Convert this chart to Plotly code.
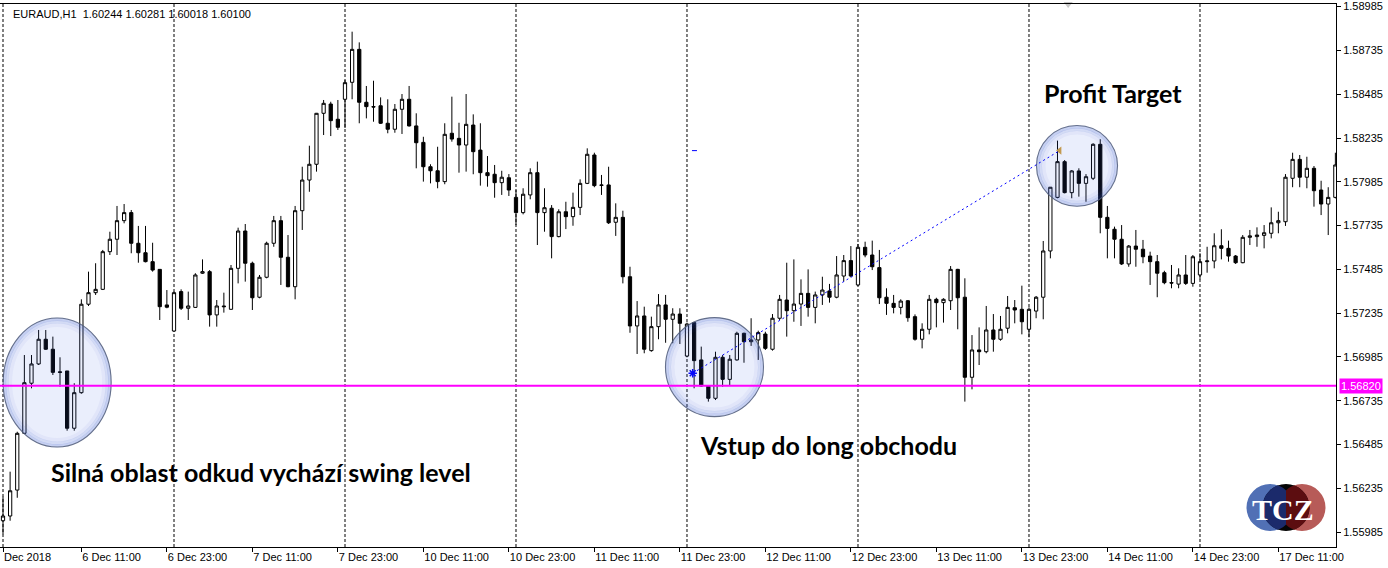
import numpy as np
import pandas as pd
import plotly.graph_objects as go

# ---------------- data ----------------
# H1 bar times (weekend skipped)
times = (list(pd.date_range("2018-12-06 00:00", "2018-12-07 23:00", freq="h"))
         + list(pd.date_range("2018-12-10 00:00", "2018-12-14 23:00", freq="h"))
         + list(pd.date_range("2018-12-17 00:00", "2018-12-17 19:00", freq="h")))

open_ = [1.56050, 1.56077, 1.56225, 1.56549, 1.56835, 1.56945, 1.57086, 1.57029, 1.56900, 1.56905,
         1.56578, 1.56781, 1.57286, 1.57352, 1.57371, 1.57586, 1.57657, 1.57763, 1.57809, 1.57634,
         1.57580, 1.57529, 1.57485, 1.57282, 1.57133, 1.57358, 1.57263, 1.57268, 1.57463, 1.57472,
         1.57225, 1.57276, 1.57257, 1.57491, 1.57704, 1.57520, 1.57326, 1.57440, 1.57634, 1.57763,
         1.57554, 1.57386, 1.57820, 1.57995, 1.58085, 1.58376, 1.58429, 1.58342, 1.58456, 1.58553,
         1.58741, 1.58439, 1.58414, 1.58419, 1.58319, 1.58285, 1.58399, 1.58456, 1.58304, 1.58210,
         1.58071, 1.58048, 1.57986, 1.58262, 1.58233, 1.58195, 1.58309, 1.58166, 1.58037, 1.58028,
         1.57980, 1.58008, 1.57896, 1.57809, 1.57910, 1.58037, 1.57809, 1.57834, 1.57672, 1.57814,
         1.57786, 1.57839, 1.57976, 1.58138, 1.57967, 1.57967, 1.57754, 1.57782, 1.57443, 1.57162,
         1.57219, 1.57021, 1.57158, 1.57282, 1.57200, 1.57230, 1.56990, 1.57181, 1.56968, 1.56819,
         1.56749, 1.56983, 1.56857, 1.56968, 1.57120, 1.57072, 1.57082, 1.57116, 1.57029, 1.57206,
         1.57310, 1.57249, 1.57287, 1.57348, 1.57268, 1.57339, 1.57362, 1.57326, 1.57447, 1.57535,
         1.57396, 1.57611, 1.57567, 1.57495, 1.57326, 1.57291, 1.57268, 1.57306, 1.57215, 1.57086,
         1.57143, 1.57314, 1.57295, 1.57306, 1.57485, 1.57326, 1.56869, 1.57025, 1.57015, 1.57139,
         1.57086, 1.57149, 1.57266, 1.57257, 1.57143, 1.57247, 1.57326, 1.57590, 1.57896, 1.58100,
         1.57923, 1.58047, 1.57976, 1.58005, 1.58199, 1.57782, 1.57714, 1.57657, 1.57516, 1.57618,
         1.57600, 1.57561, 1.57529, 1.57466, 1.57409, 1.57401, 1.57453, 1.57405, 1.57453, 1.57529,
         1.57533, 1.57620, 1.57605, 1.57561, 1.57523, 1.57668, 1.57672, 1.57679, 1.57691, 1.57751,
         1.57757, 1.58005, 1.58113, 1.58011, 1.58062, 1.57938, 1.57858, 1.57896]

high = [1.56187, 1.56330, 1.56558, 1.56996, 1.56996, 1.57139, 1.57139, 1.57101, 1.56983, 1.56905,
        1.56835, 1.57314, 1.57472, 1.57520, 1.57596, 1.57700, 1.57847, 1.57858, 1.57824, 1.57733,
        1.57733, 1.57637, 1.57485, 1.57367, 1.57358, 1.57371, 1.57358, 1.57463, 1.57542, 1.57481,
        1.57310, 1.57352, 1.57510, 1.57723, 1.57744, 1.57529, 1.57453, 1.57643, 1.57790, 1.57790,
        1.57681, 1.57847, 1.58071, 1.58191, 1.58378, 1.58452, 1.58442, 1.58452, 1.58566, 1.58842,
        1.58781, 1.58532, 1.58562, 1.58467, 1.58456, 1.58429, 1.58486, 1.58532, 1.58376, 1.58242,
        1.58085, 1.58185, 1.58319, 1.58471, 1.58322, 1.58486, 1.58370, 1.58319, 1.58132, 1.58081,
        1.58048, 1.58029, 1.57938, 1.57948, 1.58062, 1.58100, 1.57948, 1.57852, 1.57828, 1.57871,
        1.57923, 1.57999, 1.58176, 1.58151, 1.58024, 1.58071, 1.57862, 1.57820, 1.57500, 1.57304,
        1.57272, 1.57215, 1.57344, 1.57339, 1.57263, 1.57263, 1.57181, 1.57186, 1.57044, 1.56822,
        1.57015, 1.56996, 1.56996, 1.57129, 1.57124, 1.57206, 1.57135, 1.57129, 1.57230, 1.57339,
        1.57523, 1.57542, 1.57428, 1.57485, 1.57358, 1.57443, 1.57402, 1.57561, 1.57567, 1.57618,
        1.57630, 1.57643, 1.57649, 1.57596, 1.57377, 1.57339, 1.57314, 1.57310, 1.57228, 1.57177,
        1.57339, 1.57323, 1.57320, 1.57504, 1.57488, 1.57434, 1.57110, 1.57154, 1.57276, 1.57230,
        1.57219, 1.57333, 1.57310, 1.57392, 1.57268, 1.57333, 1.57647, 1.57955, 1.58220, 1.58109,
        1.58052, 1.58062, 1.58029, 1.58205, 1.58228, 1.57847, 1.57729, 1.57738, 1.57624, 1.57710,
        1.57653, 1.57586, 1.57567, 1.57477, 1.57510, 1.57491, 1.57567, 1.57567, 1.57577, 1.57614,
        1.57691, 1.57714, 1.57649, 1.57567, 1.57681, 1.57710, 1.57725, 1.57738, 1.57839, 1.57814,
        1.58029, 1.58151, 1.58138, 1.58128, 1.58075, 1.57991, 1.57954, 1.58151]

low = [1.55973, 1.56050, 1.56181, 1.56545, 1.56806, 1.56939, 1.57025, 1.56882, 1.56815, 1.56564,
       1.56564, 1.56775, 1.57276, 1.57339, 1.57367, 1.57567, 1.57567, 1.57748, 1.57577, 1.57523,
       1.57525, 1.57472, 1.57196, 1.57263, 1.57130, 1.57253, 1.57196, 1.57265, 1.57459, 1.57158,
       1.57158, 1.57238, 1.57255, 1.57405, 1.57415, 1.57253, 1.57320, 1.57434, 1.57614, 1.57396,
       1.57383, 1.57314, 1.57710, 1.57928, 1.58043, 1.58252, 1.58246, 1.58281, 1.58292, 1.58456,
       1.58319, 1.58347, 1.58328, 1.58315, 1.58262, 1.58265, 1.58258, 1.58300, 1.58062, 1.57986,
       1.57976, 1.57948, 1.57971, 1.58214, 1.58037, 1.58043, 1.58028, 1.57963, 1.57957, 1.57894,
       1.57910, 1.57904, 1.57738, 1.57799, 1.57885, 1.57624, 1.57700, 1.57548, 1.57668, 1.57715,
       1.57734, 1.57795, 1.57972, 1.57954, 1.57910, 1.57744, 1.57676, 1.57405, 1.57123, 1.57002,
       1.57006, 1.57015, 1.57086, 1.57066, 1.57063, 1.57059, 1.56983, 1.56806, 1.56815, 1.56730,
       1.56739, 1.56815, 1.56825, 1.56964, 1.56952, 1.57048, 1.56968, 1.57025, 1.57021, 1.57196,
       1.57101, 1.57186, 1.57162, 1.57215, 1.57177, 1.57282, 1.57295, 1.57320, 1.57415, 1.57440,
       1.57390, 1.57554, 1.57481, 1.57287, 1.57225, 1.57234, 1.57228, 1.57186, 1.57078, 1.57034,
       1.57114, 1.57154, 1.57181, 1.57253, 1.57143, 1.56730, 1.56800, 1.56939, 1.57006, 1.57015,
       1.57078, 1.57120, 1.57177, 1.57114, 1.57097, 1.57206, 1.57200, 1.57548, 1.57891, 1.57919,
       1.57891, 1.57900, 1.57871, 1.57995, 1.57691, 1.57548, 1.57548, 1.57510, 1.57500, 1.57500,
       1.57520, 1.57396, 1.57326, 1.57400, 1.57377, 1.57377, 1.57396, 1.57386, 1.57428, 1.57466,
       1.57491, 1.57542, 1.57529, 1.57516, 1.57520, 1.57624, 1.57614, 1.57605, 1.57662, 1.57691,
       1.57733, 1.57954, 1.57954, 1.57948, 1.57843, 1.57795, 1.57681, 1.57890]

close = [1.56077, 1.56221, 1.56549, 1.56838, 1.56945, 1.57086, 1.57029, 1.56897, 1.56897, 1.56578,
         1.56781, 1.57286, 1.57352, 1.57371, 1.57586, 1.57657, 1.57763, 1.57809, 1.57634, 1.57580,
         1.57529, 1.57481, 1.57272, 1.57269, 1.57352, 1.57263, 1.57276, 1.57453, 1.57472, 1.57225,
         1.57276, 1.57272, 1.57491, 1.57704, 1.57520, 1.57323, 1.57440, 1.57634, 1.57763, 1.57554,
         1.57386, 1.57820, 1.57995, 1.58085, 1.58376, 1.58433, 1.58334, 1.58296, 1.58551, 1.58741,
         1.58439, 1.58414, 1.58412, 1.58319, 1.58285, 1.58399, 1.58456, 1.58304, 1.58208, 1.58071,
         1.58048, 1.57986, 1.58256, 1.58229, 1.58195, 1.58313, 1.58157, 1.58037, 1.58020, 1.57980,
         1.58011, 1.57938, 1.57809, 1.57914, 1.58037, 1.57809, 1.57837, 1.57672, 1.57814, 1.57786,
         1.57839, 1.57976, 1.58142, 1.57963, 1.57965, 1.57751, 1.57782, 1.57443, 1.57162, 1.57219,
         1.57029, 1.57158, 1.57282, 1.57200, 1.57230, 1.57177, 1.57173, 1.56964, 1.56819, 1.56749,
         1.56983, 1.56857, 1.56972, 1.57120, 1.57072, 1.57082, 1.57124, 1.57034, 1.57206, 1.57314,
         1.57249, 1.57287, 1.57348, 1.57268, 1.57339, 1.57367, 1.57326, 1.57453, 1.57535, 1.57447,
         1.57611, 1.57567, 1.57500, 1.57323, 1.57291, 1.57268, 1.57304, 1.57209, 1.57086, 1.57143,
         1.57314, 1.57295, 1.57314, 1.57485, 1.57323, 1.56869, 1.57025, 1.57015, 1.57139, 1.57086,
         1.57143, 1.57268, 1.57253, 1.57186, 1.57257, 1.57326, 1.57590, 1.57954, 1.58100, 1.57923,
         1.58047, 1.57976, 1.58014, 1.58199, 1.57782, 1.57719, 1.57657, 1.57516, 1.57618, 1.57600,
         1.57557, 1.57529, 1.57463, 1.57409, 1.57407, 1.57453, 1.57405, 1.57557, 1.57529, 1.57533,
         1.57620, 1.57605, 1.57561, 1.57523, 1.57668, 1.57676, 1.57681, 1.57694, 1.57751, 1.57763,
         1.58011, 1.58113, 1.58011, 1.58062, 1.57934, 1.57858, 1.57896, 1.58081]

level_price = 1.56820                      # swing level (magenta)
entry_bar, entry_price = 96.8, 1.56892     # long entry
target_bar, target_price = 148.3, 1.58163  # profit target
y_ticks = [1.55985, 1.56235, 1.56485, 1.56735, 1.56985, 1.57235, 1.57485,
           1.57735, 1.57985, 1.58235, 1.58485, 1.58735, 1.58985]
title_text = "EURAUD,H1\u00a0\u00a01.60244 1.60281 1.60018 1.60100"

# ---------------- geometry ----------------
W, H = 1388, 568
ML, MR, MT, MB = 0, 52, 4, 21
PW, PH = W - ML - MR, H - MT - MB
x_range = [-0.421, 187.09]
y_range = [1.5590, 1.5900]
bx = (x_range[1] - x_range[0]) / PW
by = (y_range[1] - y_range[0]) / PH


def pxp(xp):
    return (xp - ML) / PW


def pyp(yp):
    return (MT + PH - yp) / PH


xs = list(range(len(times)))
tick_idx = [0] + [i for i, t in enumerate(times) if t.hour in (11, 23)]
tick_txt = ["Dec 2018"] + [f"{times[i].day} {times[i]:%b} {times[i]:%H}:00" for i in tick_idx[1:]]
sep_idx = [i for i, t in enumerate(times) if t.hour == 0]

fig = go.Figure()
fig.add_trace(go.Candlestick(
    x=xs, open=open_, high=high, low=low, close=close,
    increasing=dict(line=dict(color="black", width=1), fillcolor="white"),
    decreasing=dict(line=dict(color="black", width=1), fillcolor="black"),
    whiskerwidth=0, hoverinfo="skip", showlegend=False))

fig.add_trace(go.Scatter(x=[entry_bar], y=[entry_price], mode="markers",
                         marker=dict(symbol="asterisk-open", size=7, color="#0000ff",
                                     line=dict(color="#0000ff", width=1.5)),
                         hoverinfo="skip", showlegend=False))
fig.add_trace(go.Scatter(x=[target_bar], y=[target_price], mode="markers",
                         marker=dict(symbol="triangle-left", size=7, color="#d4a03c"),
                         hoverinfo="skip", showlegend=False))
fig.add_trace(go.Scatter(x=[149.5], y=[y_range[1]], mode="markers", cliponaxis=False,
                         marker=dict(symbol="triangle-down", size=8, color="#c8c8c8"),
                         hoverinfo="skip", showlegend=False))

shapes = []
# day separators
for i in sep_idx:
    shapes.append(dict(type="line", xref="x", yref="paper", x0=i, x1=i, y0=0, y1=1,
                       line=dict(color="black", width=1, dash="3px,2px"), layer="below"))

# glass bubbles
bubbles = [(7.6, 1.56839, 7.65, 0.003713), (99.86, 1.56927, 6.95, 0.002855),
           (150.74, 1.58076, 5.76, 0.002332)]


def ell(cx, cy, rx, ry, inset, **kw):
    return dict(type="circle", xref="x", yref="y",
                x0=cx - rx + inset * bx, x1=cx + rx - inset * bx,
                y0=cy - ry + inset * by, y1=cy + ry - inset * by, layer="above", **kw)


for cx, cy, rx, ry in bubbles:
    shapes.append(ell(cx, cy, rx, ry, 0, fillcolor="rgba(60,100,230,0.11)", line=dict(width=0)))
    for inset, w, a in [(2, 3, 0.20), (4.5, 3, 0.12), (7.5, 4, 0.05)]:
        shapes.append(ell(cx, cy, rx, ry, inset, fillcolor="rgba(0,0,0,0)",
                          line=dict(color=f"rgba(50,85,200,{a})", width=w)))
    shapes.append(ell(cx, cy, rx, ry, 0.5, fillcolor="rgba(0,0,0,0)",
                      line=dict(color="rgba(80,92,120,0.85)", width=1.1)))

# swing level
shapes.append(dict(type="line", xref="paper", yref="y", x0=0, x1=1, y0=level_price, y1=level_price,
                   line=dict(color="#ff00ff", width=2), layer="above"))
# trade line + tp mark
shapes.append(dict(type="line", xref="x", yref="y", x0=entry_bar, x1=target_bar,
                   y0=entry_price, y1=target_price,
                   line=dict(color="#0000ff", width=1, dash="2px,3px"), layer="above"))
shapes.append(dict(type="line", xref="x", yref="y", x0=entry_bar - 0.1, x1=entry_bar + 0.6,
                   y0=target_price, y1=target_price,
                   line=dict(color="#0000ff", width=1), layer="above"))

# ---- TCZ logo (paper coords) ----
r = 23.5
cyl = 507.5
cL, cM, cR = 1270.0, 1286.0, 1302.0


def circ(cx, color):
    return dict(type="circle", xref="paper", yref="paper",
                x0=pxp(cx - r), x1=pxp(cx + r), y0=pyp(cyl + r), y1=pyp(cyl - r),
                fillcolor=color, line=dict(width=0), layer="above")


def lens(c1, c2):
    a = (c2 - c1) / 2
    th = np.arccos(a / r)
    t1 = np.linspace(-th, th, 40)
    t2 = np.linspace(np.pi - th, np.pi + th, 40)
    p = [(c1 + r * np.cos(t), cyl + r * np.sin(t)) for t in t1]
    p += [(c2 + r * np.cos(t), cyl + r * np.sin(t)) for t in t2]
    return p


def clip_right(pts, xc):
    out = []
    n = len(pts)
    for k in range(n):
        p, q = pts[k], pts[(k + 1) % n]
        pin, qin = p[0] >= xc, q[0] >= xc
        if pin:
            out.append(p)
        if pin != qin:
            t = (xc - p[0]) / (q[0] - p[0])
            out.append((xc, p[1] + t * (q[1] - p[1])))
    return out


def path_of(pts):
    return "M " + " L ".join(f"{pxp(x):.5f},{pyp(y):.5f}" for x, y in pts) + " Z"


shapes.append(circ(cL, "#5170b5"))
shapes.append(circ(cR, "#b75b58"))
shapes.append(circ(cM, "#050505"))
shapes.append(dict(type="path", xref="paper", yref="paper", path=path_of(lens(cL, cM)),
                   fillcolor="#1b2a6b", line=dict(width=0), layer="above"))
shapes.append(dict(type="path", xref="paper", yref="paper",
                   path=path_of(clip_right(lens(cM, cR), cM)),
                   fillcolor="#5c0d10", line=dict(width=0), layer="above"))

annotations = [
    dict(text=title_text, xref="paper", yref="paper", x=pxp(11), y=pyp(14), xanchor="left",
         yanchor="middle", showarrow=False, font=dict(family="Liberation Sans", size=11, color="black")),
    dict(text="1.56820", xref="paper", yref="y", x=1, xshift=3, y=level_price, xanchor="left",
         yanchor="middle", showarrow=False, bgcolor="#ff00ff", borderpad=1,
         font=dict(family="Liberation Sans", size=11, color="white")),
    dict(text="<b>Profit Target</b>", xref="paper", yref="paper", x=pxp(1042), y=pyp(93),
         xanchor="left", yanchor="middle", showarrow=False,
         font=dict(family="Lato", size=25, color="black")),
    dict(text="<b>Vstup do long obchodu</b>", xref="paper", yref="paper", x=pxp(698), y=pyp(445),
         xanchor="left", yanchor="middle", showarrow=False,
         font=dict(family="Lato", size=25, color="black")),
    dict(text="<b>Silná oblast odkud vychází swing level</b>", xref="paper", yref="paper",
         x=pxp(49), y=pyp(472), xanchor="left", yanchor="middle", showarrow=False,
         font=dict(family="Lato", size=25, color="black")),
    dict(text="<b>TCZ</b>", xref="paper", yref="paper", x=pxp(1283), y=pyp(509),
         xanchor="center", yanchor="middle", showarrow=False,
         font=dict(family="Liberation Serif", size=30, color="white")),
]

fig.update_layout(
    width=W, height=H, margin=dict(l=ML, r=MR, t=MT, b=MB, pad=0),
    paper_bgcolor="white", plot_bgcolor="white", showlegend=False, hovermode=False,
    boxgap=0.35,
    shapes=shapes, annotations=annotations,
    xaxis=dict(range=x_range, showgrid=False, zeroline=False, showline=True, mirror=True,
               linecolor="black", linewidth=1, ticks="outside", ticklen=4, tickcolor="black",
               tickvals=tick_idx, ticktext=tick_txt, ticklabelposition="outside right",
               tickfont=dict(family="Liberation Sans", size=11, color="black"),
               rangeslider=dict(visible=False), fixedrange=True),
    yaxis=dict(range=y_range, side="right", showgrid=False, zeroline=False, showline=True,
               linecolor="black", linewidth=1, ticks="outside", ticklen=4, tickcolor="black",
               tickvals=y_ticks, ticktext=[f"{v:.5f}" for v in y_ticks],
               tickfont=dict(family="Liberation Sans", size=11, color="black"), fixedrange=True),
)

fig.write_html("out.html", config={"displayModeBar": False},
               post_script="document.body.style.margin='0';document.body.style.overflow='hidden';")
